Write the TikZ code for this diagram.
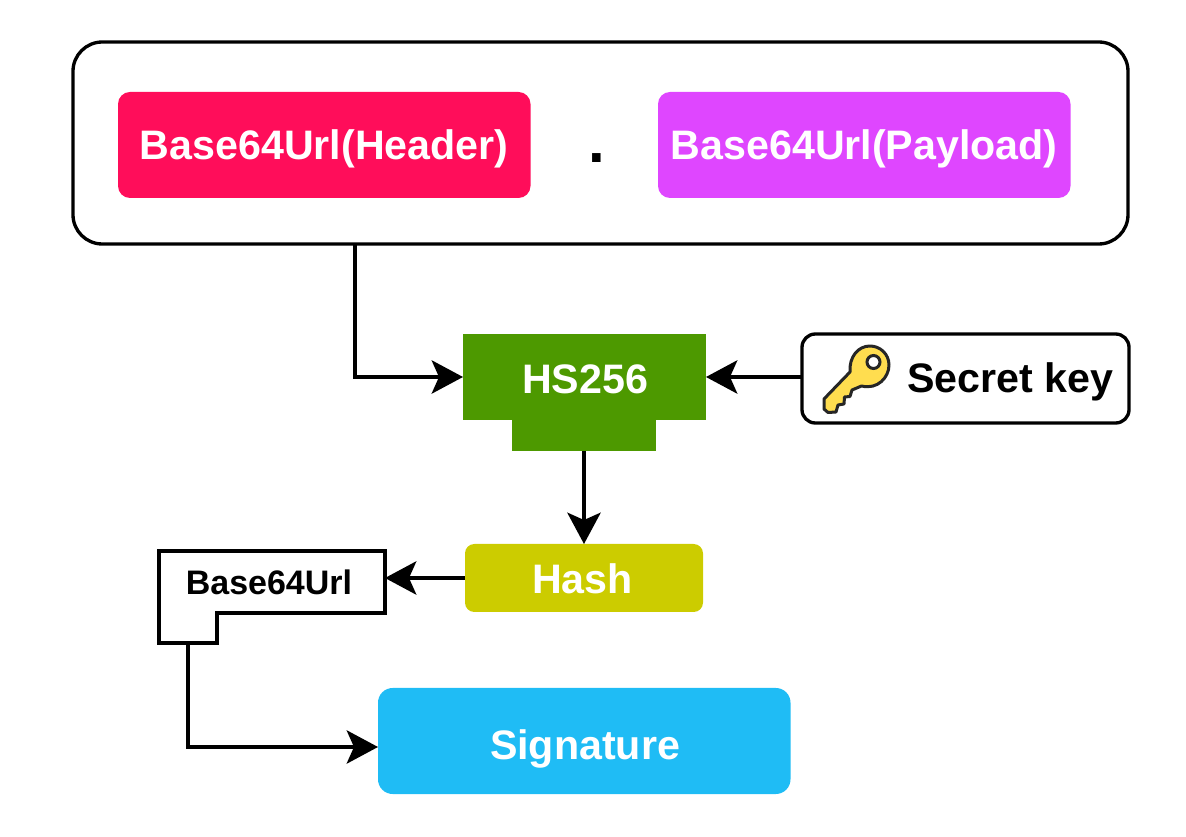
\documentclass[tikz,border=0pt]{standalone}
\usepackage{fontspec}
\setmainfont{Liberation Sans}
\usetikzlibrary{arrows.meta,calc}
\definecolor{cred}{HTML}{FF0D5A}
\definecolor{cpurple}{HTML}{DF46FF}
\definecolor{cgreen}{HTML}{4D9900}
\definecolor{cyel}{HTML}{CCCC00}
\definecolor{cblue}{HTML}{1FBCF5}
\definecolor{keyfill}{HTML}{FFDD4F}
\definecolor{keyline}{HTML}{262626}
\tikzset{
  x=0.75pt,y=-0.75pt,
  big/.style={font=\fontsize{30.9pt}{34pt}\selectfont\bfseries},
  box/.style={anchor=north west,inner sep=0pt,outer sep=0pt},
  conn/.style={line width=2.5pt,-{Stealth[length=23.5pt,width=25pt,inset=5.5pt]}},
  lbl/.style={big,text=white,inner sep=0pt},
}
\begin{document}
\begin{tikzpicture}
\useasboundingbox (0,0) rectangle (1186,837);
% outer box
\node[box,draw=black,line width=2.5pt,rounded corners=22pt,minimum width=1055*0.75pt,minimum height=202*0.75pt] (outer) at (73,42) {};
\node[box,fill=cred,rounded corners=9pt,minimum width=412.5*0.75pt,minimum height=106*0.75pt] (header) at (118,92) {};
\node[lbl] at ($(header.center)+(0,4)$) {Base64Url(Header)};
\node[box,fill=cpurple,rounded corners=9pt,minimum width=412.5*0.75pt,minimum height=106*0.75pt] (payload) at (658,92) {};
\node[lbl] at ($(payload.center)+(0,4)$) {Base64Url(Payload)};
\node[inner sep=0pt,font=\fontsize{45pt}{48pt}\selectfont\bfseries] (dot) at (597,158) {.};
% HS256
\node[box,fill=cgreen,minimum width=243*0.75pt,minimum height=86*0.75pt] (hs) at (463,334) {};
\node[box,fill=cgreen,minimum width=144*0.75pt,minimum height=32*0.75pt] (hslow) at (512,419) {};
\node[lbl] at (585,379) {HS256};
% secret key
\node[box,draw=black,fill=white,line width=2.5pt,rounded corners=10pt,minimum width=327*0.75pt,minimum height=89*0.75pt] (secret) at (802,334) {};
\node[big,inner sep=0pt,anchor=west] (secrettext) at (907,382) {Secret key};
\draw[keyline,fill=keyfill,line width=2.25pt,line join=round]
  (850,372) -- (824,399) -- (824,409) -- (828,412.5) -- (836,412) -- (838,405) -- (844,404) -- (844.5,397) -- (850,396.5) -- (852,390) -- (861.5,386)
  .. controls (878,390) and (889,377) .. (889,365)
  .. controls (889,354) and (880,346) .. (870,346)
  .. controls (858,346) and (849,357) .. (850,372) -- cycle;
\draw[keyline,fill=white,line width=2.25pt] (873.5,362) circle[radius=6.5];
% hash
\node[box,fill=cyel,rounded corners=7pt,minimum width=238*0.75pt,minimum height=68*0.75pt] (hash) at (465,544) {};
\node[lbl] at (582.5,579) {Hash};
% Base64Url L shape
\coordinate (la) at (159,551);
\coordinate (lb) at (385,551);
\coordinate (lc) at (385,613);
\coordinate (ld) at (217,613);
\coordinate (le) at (217,643);
\coordinate (lf) at (159,643);
\draw[line width=2.5pt,fill=white] (la) -- (lb) -- (lc) -- (ld) -- (le) -- (lf) -- cycle;
\node[inner sep=0pt,font=\fontsize{25.5pt}{28pt}\selectfont\bfseries] (b64) at (269,582) {Base64Url};
% signature
\node[box,fill=cblue,rounded corners=11pt,minimum width=412.5*0.75pt,minimum height=106*0.75pt] (sig) at (378,688) {};
\node[lbl] at (585,749) {Signature};
% connectors
\coordinate (c1) at (355,244);
\coordinate (l1) at (188,643);
\draw[conn] (c1) |- (hs.west |- 0,377);
\draw[conn] (secret.west |- 0,377) -- (hs.east |- 0,377);
\draw[conn] (hslow.south -| 584,0) -- (hash.north -| 584,0);
\draw[conn] (hash.west |- 0,578) -- (lb |- 0,578);
\draw[conn] (l1) |- (sig.west |- 0,747);
\end{tikzpicture}
\end{document}
